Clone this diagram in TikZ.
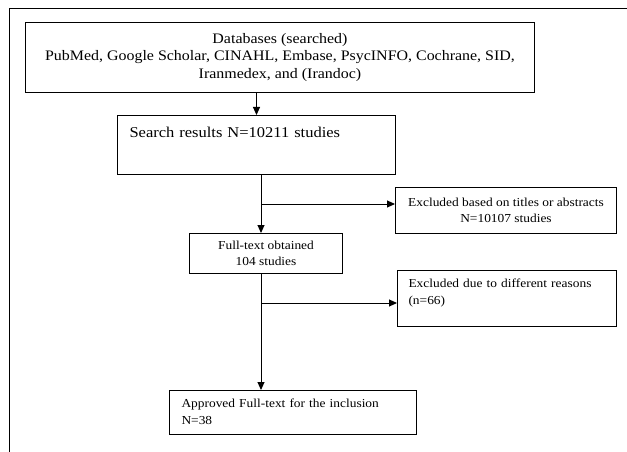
\documentclass[tikz,border=0pt]{standalone}
\usepackage{fontspec}
\setmainfont{Liberation Serif}[FakeStretch=1.1]
\usetikzlibrary{arrows.meta}
\begin{document}
\begin{tikzpicture}[x=1pt,y=-1pt,
  box/.style={draw, line width=1pt, inner sep=0pt, anchor=north west},
  arr/.style={draw, line width=1pt, -{Triangle[length=8pt,width=7pt]}},
  frame/.style={draw, line width=1pt}]
\useasboundingbox (0,0) rectangle (627,452);
\draw[frame] (627,9) -- (9,9) -- (9,452);
\node[box, minimum width=509pt, minimum height=70pt, align=center,
  font=\fontsize{14.5}{17.5}\selectfont] (db) at (25,22)
  {Databases (searched)\\PubMed, Google Scholar, CINAHL, Embase, PsycINFO, Cochrane, SID,\\Iranmedex, and (Irandoc)};
\node[box, text width=254pt, inner xsep=12pt, align=left, text height=22pt, text depth=37pt,
  font=\fontsize{15}{18}\selectfont] (sr) at (117,115) {Search results N=10211 studies};
\node[box, minimum width=221pt, minimum height=46pt, align=center,
  font=\fontsize{12.2}{16}\selectfont] (ex1) at (395,187)
  {Excluded based on titles or abstracts\\N=10107 studies};
\node[box, minimum width=153pt, minimum height=40pt, align=center,
  font=\fontsize{12.2}{16}\selectfont] (ft) at (189,233)
  {Full-text obtained\\104 studies};
\node[box, text width=197pt, inner xsep=11pt, align=left, text height=17pt, text depth=39pt,
  font=\fontsize{12.2}{17}\selectfont] (ex2) at (397,270)
  {Excluded due to different reasons\\(n=66)};
\node[box, text width=223pt, inner xsep=12pt, align=left, text height=17pt, text depth=27pt,
  font=\fontsize{12.2}{17}\selectfont] (ap) at (169,390)
  {Approved Full-text for the inclusion\\N=38};
\coordinate (v) at (261,0);
\coordinate (b1) at (261,204);
\coordinate (b2) at (261,303);
\draw[arr] (sr.north |- db.south) -- (sr.north);
\draw[arr] (v |- sr.south) -- (v |- ft.north);
\draw[arr] (b1) -- (b1 -| ex1.west);
\draw[arr] (v |- ft.south) -- (v |- ap.north);
\draw[arr] (b2) -- (b2 -| ex2.west);
\end{tikzpicture}
\end{document}
